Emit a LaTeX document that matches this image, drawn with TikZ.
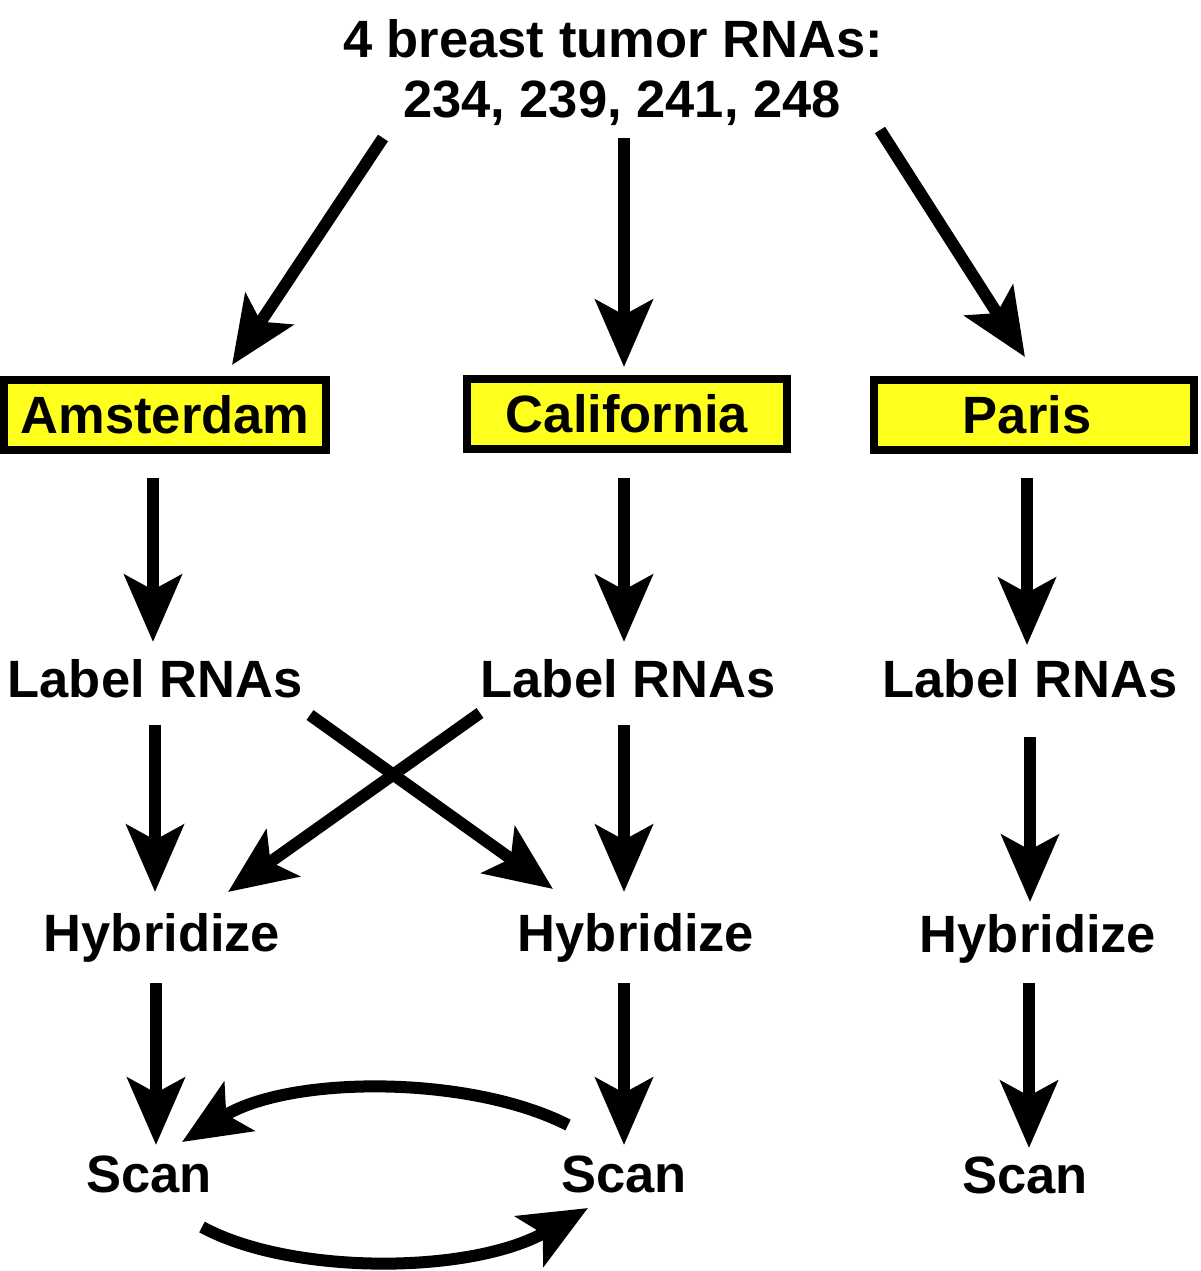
\documentclass[tikz,border=0pt]{standalone}
\usepackage{fontspec}
\setmainfont{Liberation Sans}
\usetikzlibrary{arrows.meta}
\definecolor{boxyellow}{RGB}{255,255,30}
\begin{document}
\begin{tikzpicture}[x=1pt,y=-1pt,
  txt/.style={inner sep=0pt,anchor=base,font=\fontsize{52.5}{60}\selectfont\bfseries},
  site/.style={draw=black,fill=boxyellow,line width=8pt,minimum width=320pt,minimum height=70pt,inner sep=0pt,font=\fontsize{52.5}{60}\selectfont\bfseries},
  arr/.style={line width=12pt,-{Stealth[length=67pt,width=57pt,inset=15pt]}}]
\useasboundingbox (0,0) rectangle (1200,1271);
% title
\node[txt] (t1) at (613,58) {4 breast tumor RNAs:};
\node[txt] (t2) at (622,118) {234, 239, 241, 248};
% sites
\node[site,minimum width=322pt] (ams) at (165,415) {Amsterdam};
\node[site] (cal) at (627,414) {California};
\node[site] (par) at (1034,415) {Paris\hspace*{14pt}};
% label
\node[txt] (l1) at (155,697) {Label RNAs};
\node[txt] (l2) at (628,697) {Label RNAs};
\node[txt] (l3) at (1030,697) {Label RNAs};
% hybridize
\node[txt] (h1) at (162,951) {Hybridize};
\node[txt] (h2) at (636,951) {Hybridize};
\node[txt] (h3) at (1038,952) {Hybridize};
% scan
\node[txt] (s1) at (149,1192) {Scan};
\node[txt] (s2) at (624,1192) {Scan};
\node[txt] (s3) at (1025,1193) {Scan};
% title arrows
\draw[arr] ([shift={(-239,20)}]t2.base) -- ([shift={(67,-50)}]ams.center);
\draw[arr] ([shift={(2,20)}]t2.base) -- ([shift={(-3,-47)}]cal.center);
\draw[arr] ([shift={(258,12)}]t2.base) -- ([shift={(-9,-58)}]par.center);
% site to label
\draw[arr] ([shift={(-12,63)}]ams.center) -- ([shift={(-2,-55)}]l1.base);
\draw[arr] ([shift={(-3,64)}]cal.center) -- ([shift={(-4,-55)}]l2.base);
\draw[arr] ([shift={(-7,63)}]par.center) -- ([shift={(-3,-52)}]l3.base);
% label to hybridize
\draw[arr] ([shift={(0,28)}]l1.base) -- ([shift={(-7,-59)}]h1.base);
\draw[arr] ([shift={(-4,28)}]l2.base) -- ([shift={(-12,-59)}]h2.base);
\draw[arr] ([shift={(0,40)}]l3.base) -- ([shift={(-8,-50)}]h3.base);
\draw[arr] ([shift={(155,18)}]l1.base) -- ([shift={(-83,-62)}]h2.base);
\draw[arr] ([shift={(-148,16)}]l2.base) -- ([shift={(66,-59)}]h1.base);
% hybridize to scan
\draw[arr] ([shift={(-6,32)}]h1.base) -- ([shift={(7,-47)}]s1.base);
\draw[arr] ([shift={(-12,32)}]h2.base) -- ([shift={(0,-47)}]s2.base);
\draw[arr] ([shift={(-9,31)}]h3.base) -- ([shift={(4,-45)}]s3.base);
% scan exchange
\draw[arr] ([shift={(-56,-67)}]s2.base) .. controls (470,1075) and (290,1075) .. ([shift={(33,-50)}]s1.base);
\draw[arr] ([shift={(53,35)}]s1.base) .. controls (290,1275) and (470,1275) .. ([shift={(-36,16)}]s2.base);
\end{tikzpicture}
\end{document}
